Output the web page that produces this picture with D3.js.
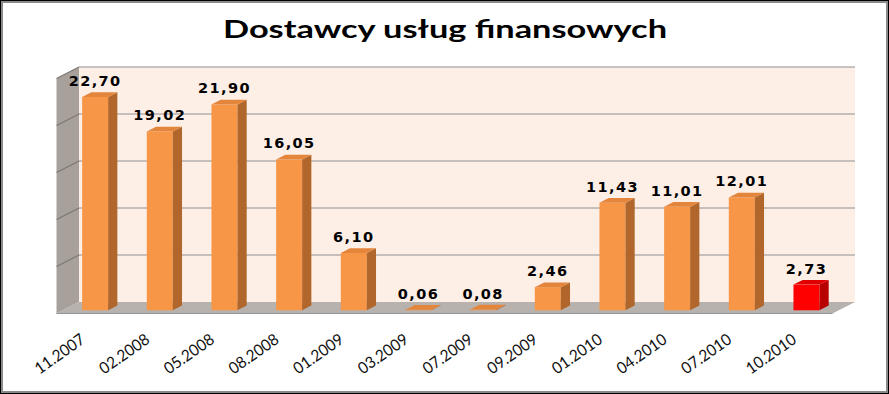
<!DOCTYPE html>
<html>
<head>
<meta charset="utf-8">
<script src="https://cdn.jsdelivr.net/npm/d3@7"></script>
<style>
  html, body { margin: 0; padding: 0; background: #000; }
  svg { display: block; }
</style>
</head>
<body>
<svg id="chart" width="889" height="394"></svg>
<script>
// data
const categories = ["11.2007", "02.2008", "05.2008", "08.2008", "01.2009", "03.2009",
  "07.2009", "09.2009", "01.2010", "04.2010", "07.2010", "10.2010"];
const values = [22.70, 19.02, 21.90, 16.05, 6.10, 0.06, 0.08, 2.46, 11.43, 11.01, 12.01, 2.73];
const highlighted = ["10.2010"];
const yTicks = [0, 5, 10, 15, 20, 25];
const title = "Dostawcy usług finansowych";

const svg = d3.select("#chart");
const W = 889, H = 394;

// frame
svg.append("rect")
  .attr("x", 2).attr("y", 2).attr("width", W - 4).attr("height", H - 4)
  .attr("fill", "#fff").attr("stroke", "#8a8a8a").attr("stroke-width", 2);

svg.append("text")
  .attr("x", 445).attr("y", 38)
  .attr("text-anchor", "middle")
  .attr("textLength", 444)
  .attr("lengthAdjust", "spacingAndGlyphs")
  .style("font-family", "Lato, 'Open Sans', sans-serif")
  .style("font-weight", "bold")
  .style("font-size", "25px")
  .attr("fill", "#000")
  .text(title);

// 3d box: back wall coordinates, pushed toward the viewer by depth fraction f
const DX = 22.5, DY = 11.5;
const x = d3.scaleBand().domain(categories).range([79, 855]).padding(0);
const y = d3.scaleLinear().domain([0, 25]).range([302, 67]);
const proj = (xb, yb, f) => [xb - f * DX, yb + f * DY];
const poly = pts => "M" + pts.map(p => p.join(",")).join("L") + "Z";

const x0 = x.range()[0], x1 = x.range()[1];
const yTop = y(25), yBot = y(0);

// side wall
svg.append("path")
  .attr("d", poly([proj(x0, yTop, 0), proj(x0, yBot, 0), proj(x0, yBot, 1), proj(x0, yTop, 1)]))
  .attr("fill", "#a7a09b");

// back wall
svg.append("rect")
  .attr("x", x0).attr("y", yTop).attr("width", x1 - x0).attr("height", yBot - yTop)
  .attr("fill", "#fdeee6");

// gridlines
const grid = svg.append("g");
yTicks.filter(t => t > 0).forEach(t => {
  grid.append("line")
    .attr("x1", x0).attr("x2", x1).attr("y1", y(t)).attr("y2", y(t))
    .attr("stroke", "#8f8f8f").attr("stroke-width", 1.2);
  const a = proj(x0, y(t), 0), b = proj(x0, y(t), 1);
  grid.append("line")
    .attr("x1", a[0]).attr("y1", a[1]).attr("x2", b[0]).attr("y2", b[1])
    .attr("stroke", "#7d7772").attr("stroke-width", 1.2);
});

// floor
svg.append("path")
  .attr("d", poly([proj(x0, yBot, 0), proj(x1, yBot, 0), proj(x1, yBot, 1), proj(x0, yBot, 1)]))
  .attr("fill", "#b8b2ae");
svg.append("line")
  .attr("x1", proj(x0, yBot, 1)[0]).attr("y1", proj(x0, yBot, 1)[1])
  .attr("x2", proj(x1, yBot, 1)[0]).attr("y2", proj(x1, yBot, 1)[1])
  .attr("stroke", "#8c96a0").attr("stroke-width", 1.2);

// bars
const bw = 26, fFront = 0.72, fBack = 0.31;
const colors = {
  normal: {front: "#f79646", side: "#b1672b", top: "#e4853c"},
  hi: {front: "#ff0000", side: "#b80000", top: "#e00000"}
};

const bars = svg.append("g").selectAll("g")
  .data(categories.map((c, i) => ({cat: c, v: values[i]})))
  .join("g");

bars.each(function(d) {
  const g = d3.select(this);
  const c = highlighted.includes(d.cat) ? colors.hi : colors.normal;
  const cx = x(d.cat) + x.bandwidth() / 2;
  const l = cx - bw / 2, r = cx + bw / 2;
  const yt = y(d.v), yb = y(0);
  // front
  g.append("path")
    .attr("d", poly([proj(l, yt, fFront), proj(r, yt, fFront), proj(r, yb, fFront), proj(l, yb, fFront)]))
    .attr("fill", c.front);
  // side
  g.append("path")
    .attr("d", poly([proj(r, yt, fFront), proj(r, yt, fBack), proj(r, yb, fBack), proj(r, yb, fFront)]))
    .attr("fill", c.side);
  // top
  g.append("path")
    .attr("d", poly([proj(l, yt, fFront), proj(r, yt, fFront), proj(r, yt, fBack), proj(l, yt, fBack)]))
    .attr("fill", c.top);
});

// value labels
const fmt = v => d3.format(".2f")(v).replace(".", ",");
bars.append("text")
  .attr("x", d => proj(x(d.cat) + x.bandwidth() / 2, 0, fFront)[0])
  .attr("y", d => proj(0, y(d.v), fFront)[1] - 11)
  .attr("text-anchor", "middle")
  .style("font-family", "'DejaVu Sans', Verdana, sans-serif")
  .style("font-weight", "bold")
  .style("font-size", "14.5px")
  .style("letter-spacing", "1.4px")
  .attr("fill", "#000")
  .text(d => fmt(d.v));

// category labels
svg.append("g").selectAll("text")
  .data(categories)
  .join("text")
  .attr("transform", d => {
    const p = proj(x(d) + x.bandwidth() / 2, y(0), fFront);
    return `translate(${p[0] - 9},342) rotate(-35)`;
  })
  .attr("text-anchor", "end")
  .attr("textLength", 57)
  .attr("lengthAdjust", "spacingAndGlyphs")
  .style("font-family", "Lato, 'Open Sans', sans-serif")
  .style("font-size", "16px")
  .attr("fill", "#111")
  .text(d => d);
</script>
</body>
</html>
